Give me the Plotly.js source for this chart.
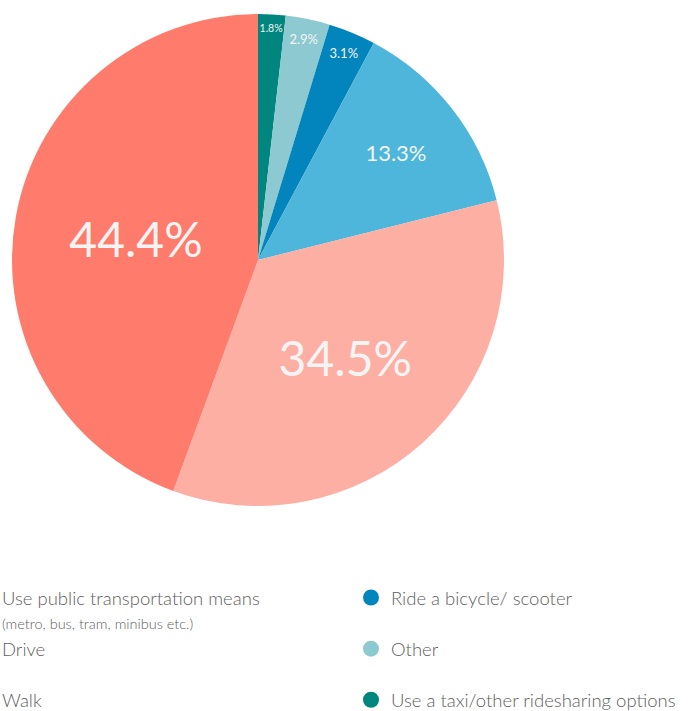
<!DOCTYPE html>
<html>
<head>
<meta charset="utf-8">
<script src="https://cdn.plot.ly/plotly-3.0.1.min.js"></script>
<style>html,body{margin:0;padding:0;background:#fff;}#chart{width:688px;height:711px;}</style>
</head>
<body>
<div id="chart"></div>
<script>
// Slices listed clockwise from 12 o'clock
var labels = ["Use a taxi/other ridesharing options", "Other", "Ride a bicycle/ scooter", "Walk", "Drive", "Use public transportation means"];
var subLabels = ["", "", "", "", "", "(metro, bus, tram, minibus etc.)"];
var values = [1.8, 2.9, 3.1, 13.3, 34.5, 44.4];
var colors = ["#00857F", "#8CC9D0", "#0285BC", "#4EB6DA", "#FDAFA3", "#FF7B6C"];
var textSizes = [11, 13, 13, 22, 48, 48];

// Legend layout: left column and right column, top to bottom
var leftColumn = ["Use public transportation means", "Drive", "Walk"];
var rightColumn = ["Ride a bicycle/ scooter", "Other", "Use a taxi/other ridesharing options"];

var fontFamily = "Lato, 'Open Sans', sans-serif";

var traces = [{
  type: "pie",
  labels: labels,
  values: values,
  sort: false,
  direction: "clockwise",
  marker: {colors: colors, line: {width: 0}},
  texttemplate: "%{value:.1f}%",
  textposition: "inside",
  insidetextorientation: "horizontal",
  textfont: {family: fontFamily, size: textSizes, color: "#f4f4f4"},
  domain: {x: [12/688, 504/688], y: [205/711, 697/711]},
  showlegend: false,
  hoverinfo: "label+percent"
}];

function addLegendTraces(column, legendId) {
  column.forEach(function (lab) {
    var i = labels.indexOf(lab);
    var sub = subLabels[i] ? subLabels[i] : "&nbsp;";
    traces.push({
      type: "scatter",
      mode: "markers",
      x: [null], y: [null],
      name: lab + "<br><span style='font-size:14.5px'>" + sub + "</span>",
      marker: {color: colors[i], size: 16, symbol: "circle"},
      legend: legendId,
      hoverinfo: "skip"
    });
  });
}
addLegendTraces(leftColumn, "legend");
addLegendTraces(rightColumn, "legend2");

var legendBase = {
  orientation: "v",
  xanchor: "left", yanchor: "top",
  y: 1 - 579/711,
  valign: "top",
  bgcolor: "rgba(0,0,0,0)",
  borderwidth: 0,
  font: {family: fontFamily, size: 18.5, color: "#606060", weight: 300},
  itemclick: false, itemdoubleclick: false
};

var layout = {
  width: 688, height: 711,
  margin: {l: 0, r: 0, t: 0, b: 0, autoexpand: false},
  paper_bgcolor: "#ffffff",
  plot_bgcolor: "#ffffff",
  showlegend: true,
  xaxis: {visible: false, fixedrange: true},
  yaxis: {visible: false, fixedrange: true},
  legend: Object.assign({}, legendBase, {x: -38/688}),
  legend2: Object.assign({}, legendBase, {x: 351/688})
};

Plotly.newPlot("chart", traces, layout, {displayModeBar: false, staticPlot: true});
</script>
</body>
</html>
